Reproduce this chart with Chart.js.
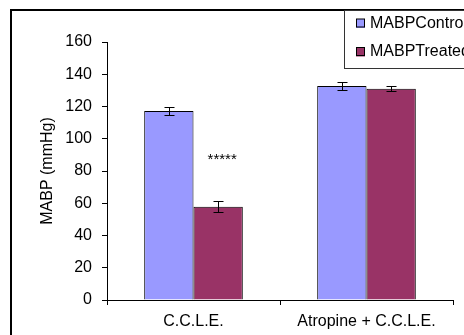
<!DOCTYPE html>
<html>
<head>
<meta charset="utf-8">
<script src="https://cdn.jsdelivr.net/npm/chart.js@4.4.1/dist/chart.umd.min.js"></script>
<style>
  html, body { margin: 0; padding: 0; background: #fff; }
  #wrap { width: 464px; height: 335px; position: relative; }
</style>
</head>
<body>
<div id="wrap"><canvas id="chart"></canvas></div>
<script>
// data
const categories = ['C.C.L.E.', 'Atropine + C.C.L.E.'];
const controlValues = [117.2, 132.7];
const controlErrors = [2.5, 2.6];
const treatedValues = [57.9, 131.0];
const treatedErrors = [3.3, 1.5];
const yTicks = [0, 20, 40, 60, 80, 100, 120, 140, 160];
const marker = { text: '*****', category: 0, dataset: 1, value: 88.7 };

const FONT = { family: 'Liberation Sans, Arial, sans-serif', size: 16 };

// error bars drawn from each bar's own scale position
const errorBars = {
    id: 'errorBars',
    afterDatasetsDraw(chart) {
        const ctx = chart.ctx;
        const y = chart.scales.y;
        ctx.save();
        ctx.strokeStyle = '#000';
        ctx.lineWidth = 1;
        chart.data.datasets.forEach((ds, di) => {
            const meta = chart.getDatasetMeta(di);
            meta.data.forEach((bar, i) => {
                const v = ds.data[i], e = ds.errors[i];
                const x = Math.round(bar.x) + 0.5;
                const top = Math.round(y.getPixelForValue(v + e)) + 0.5;
                const bot = Math.round(y.getPixelForValue(v - e)) + 0.5;
                ctx.beginPath();
                ctx.moveTo(x, top); ctx.lineTo(x, bot);
                ctx.moveTo(x - 5, top); ctx.lineTo(x + 5, top);
                ctx.moveTo(x - 5, bot); ctx.lineTo(x + 5, bot);
                ctx.stroke();
            });
        });
        // significance stars
        const bar = chart.getDatasetMeta(marker.dataset).data[marker.category];
        ctx.fillStyle = '#000';
        ctx.font = '15px ' + FONT.family;
        ctx.textAlign = 'center';
        ctx.textBaseline = 'middle';
        ctx.fillText(marker.text, bar.x + 4, y.getPixelForValue(marker.value) + 3);
        ctx.restore();
    }
};

// outer frame and boxed legend like the original spreadsheet chart
const frameLegend = {
    id: 'frameLegend',
    afterDraw(chart) {
        const ctx = chart.ctx;
        ctx.save();
        ctx.strokeStyle = '#000';
        ctx.lineWidth = 2;
        ctx.beginPath();
        ctx.moveTo(11, 340); ctx.lineTo(11, 10); ctx.lineTo(470, 10);
        ctx.stroke();

        ctx.lineWidth = 1;
        ctx.strokeStyle = '#333';
        ctx.strokeRect(344.5, 10.5, 140, 58);

        ctx.font = FONT.size + 'px ' + FONT.family;
        ctx.textAlign = 'left';
        ctx.textBaseline = 'middle';
        const rows = [23.5, 52];
        chart.data.datasets.forEach((ds, i) => {
            const cy = rows[i];
            ctx.fillStyle = ds.backgroundColor;
            ctx.fillRect(356, cy - 4.5, 9, 9);
            ctx.strokeStyle = '#000';
            ctx.strokeRect(356.5, cy - 4.5, 8, 8);
            ctx.fillStyle = '#000';
            ctx.fillText(ds.label, 370, cy);
        });
        ctx.restore();
    }
};

new Chart(document.getElementById('chart'), {
    type: 'bar',
    data: {
        labels: categories,
        datasets: [
            { label: 'MABPControl', data: controlValues, errors: controlErrors,
              backgroundColor: '#9999FF', borderColor: '#000', borderWidth: 1 },
            { label: 'MABPTreated', data: treatedValues, errors: treatedErrors,
              backgroundColor: '#993366', borderColor: '#000', borderWidth: 1 }
        ]
    },
    options: {
        responsive: true,
        maintainAspectRatio: false,
        animation: false,
        layout: { padding: { left: 38, top: 42, right: 11, bottom: 0 } },
        datasets: { bar: { categoryPercentage: 0.57, barPercentage: 1 } },
        plugins: { legend: { display: false }, tooltip: { enabled: false } },
        scales: {
            x: {
                offset: true,
                grid: { offset: true, drawOnChartArea: false, tickLength: 5, color: '#000' },
                border: { color: '#000' },
                ticks: { color: '#000', font: FONT, padding: 7, maxRotation: 0 },
                afterFit(scale) { scale.height = 35; }
            },
            y: {
                min: 0, max: 160,
                afterBuildTicks(scale) { scale.ticks = yTicks.map(v => ({ value: v })); },
                grid: { drawOnChartArea: false, tickLength: 5, color: '#000' },
                border: { color: '#000' },
                ticks: { color: '#000', font: FONT, padding: 10 },
                title: { display: true, text: 'MABP (mmHg)', color: '#000', font: FONT, padding: 0 },
                afterFit(scale) { scale.width = 69; }
            }
        }
    },
    plugins: [errorBars, frameLegend]
});
</script>
</body>
</html>
